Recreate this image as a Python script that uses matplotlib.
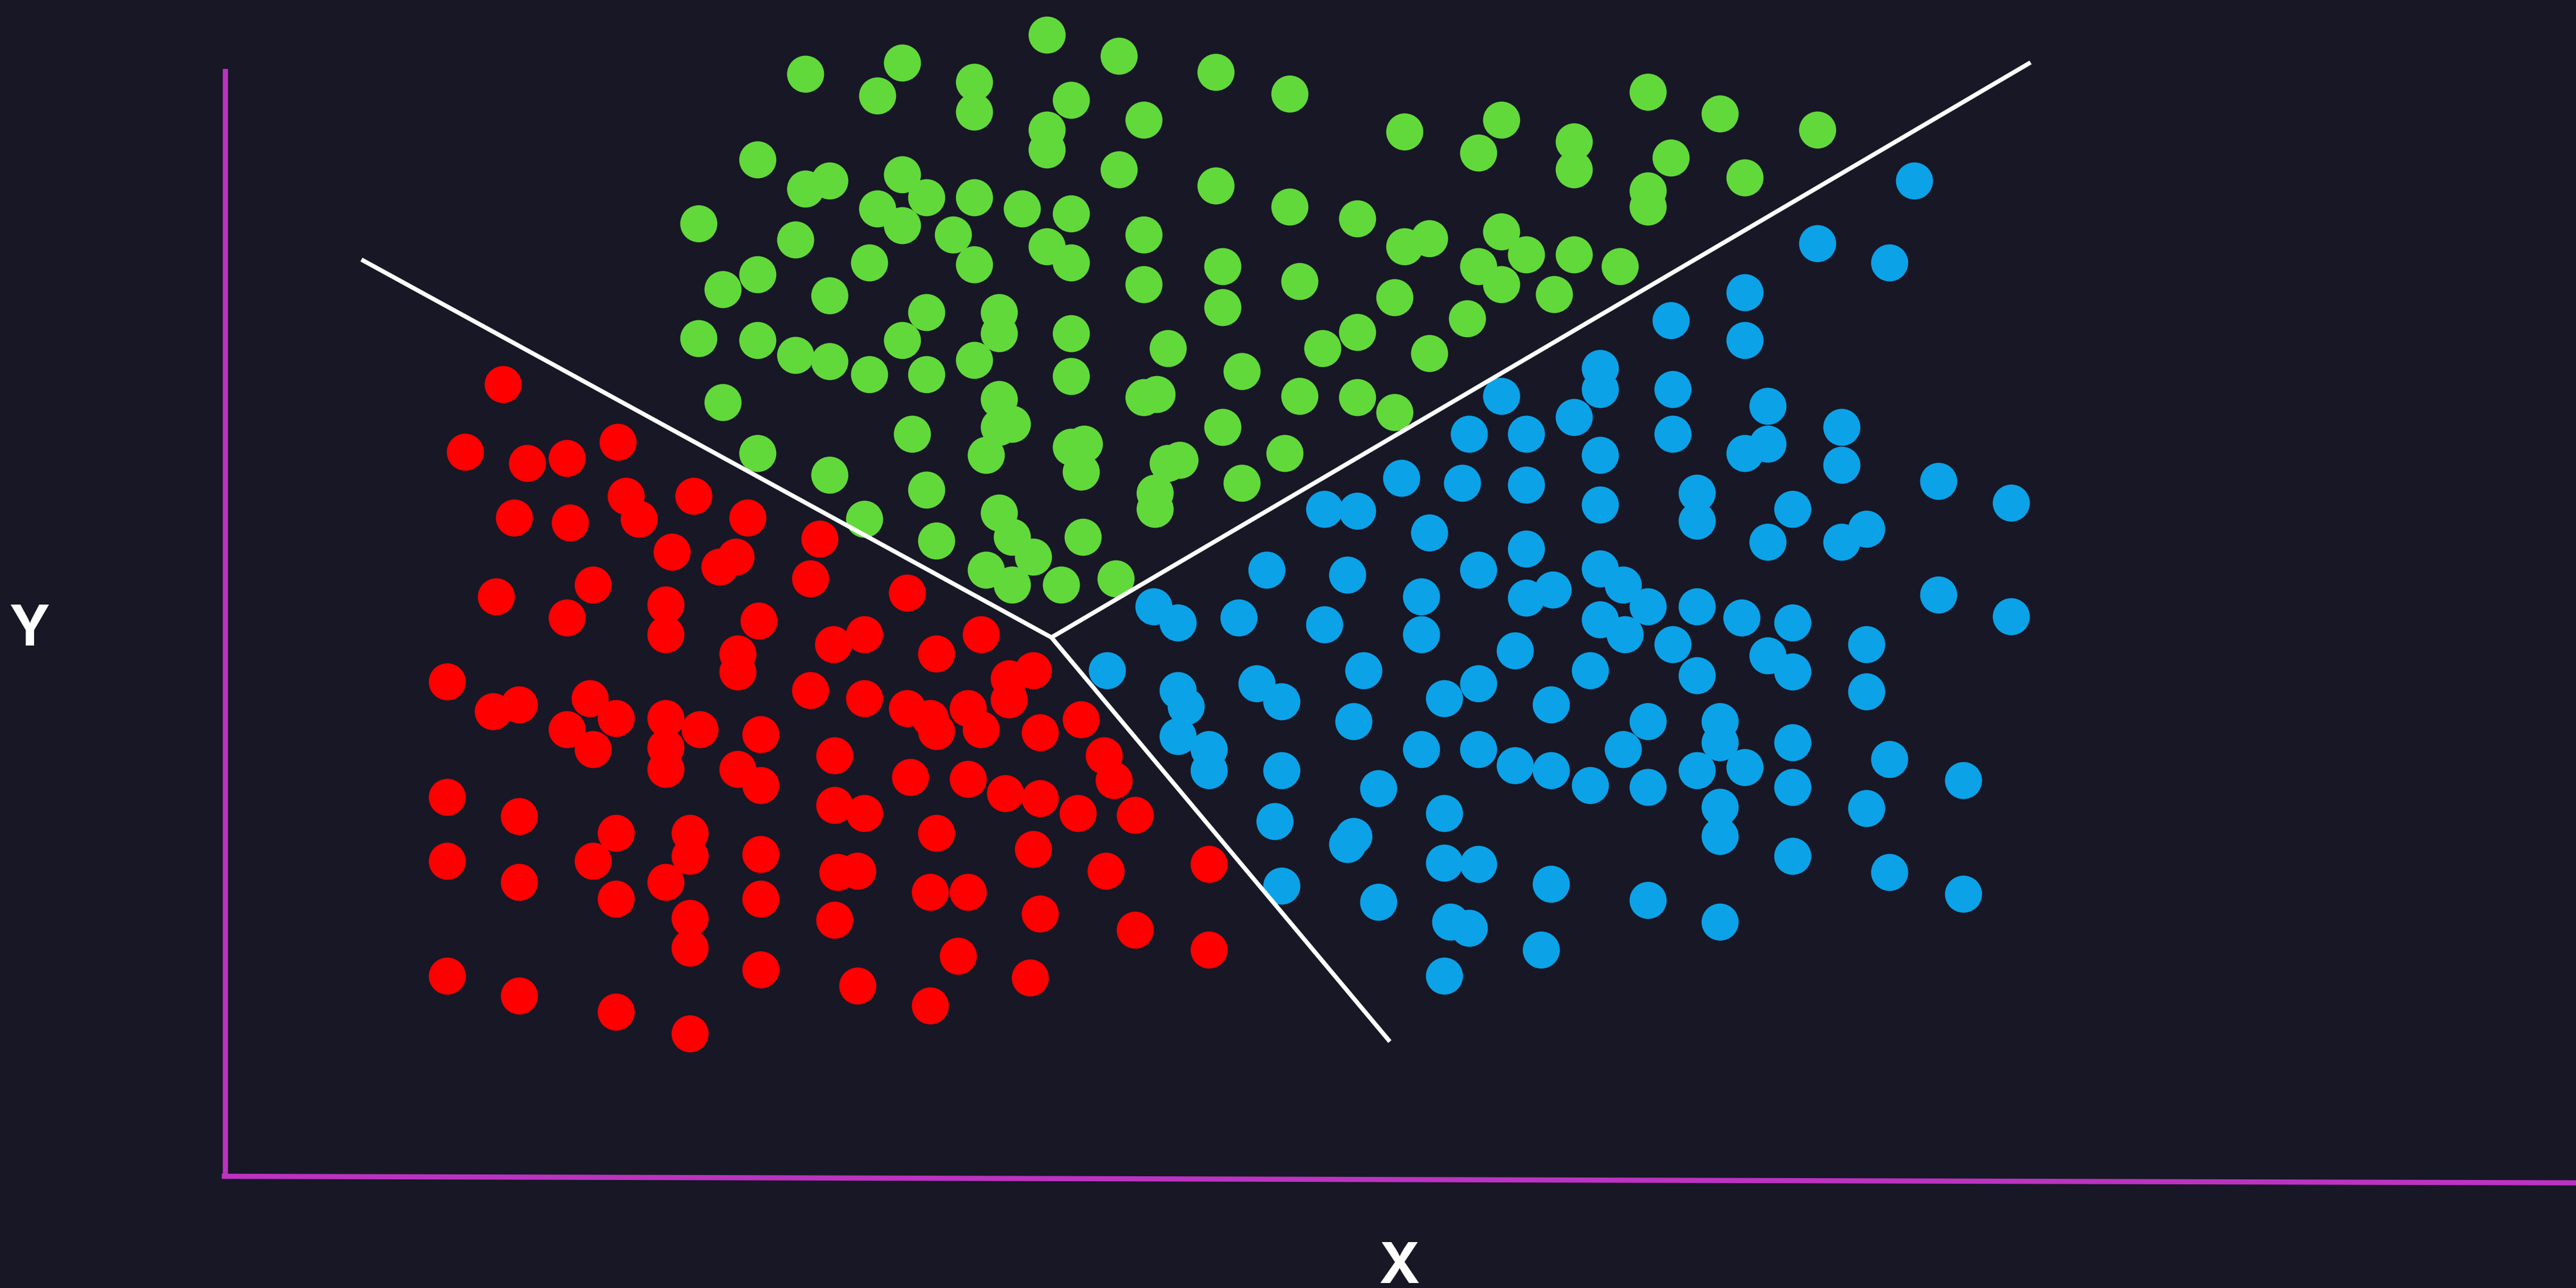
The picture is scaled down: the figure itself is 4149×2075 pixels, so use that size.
import matplotlib.pyplot as plt
import numpy as np

# point positions (horizontal, vertical; vertical grows downwards)
green_x = [637, 549, 681, 490, 593, 740, 534, 652, 593, 785, 696, 637, 637, 855, 914, 1003, 1047, 1106,
           958, 900, 958, 1017, 1062, 461, 490, 505, 549, 681, 740, 534, 564, 593, 549, 622, 652, 425,
           484, 580, 637, 652, 696, 785, 826, 914, 855, 870, 1003, 1003, 529, 593, 461, 440, 505, 744,
           696, 900, 929, 958, 986, 914, 946, 791, 849, 893, 564, 608, 608, 549, 425, 461, 484, 505,
           529, 564, 593, 652, 652, 711, 744, 756, 805, 826, 870, 440, 608, 696, 704, 791, 826, 849,
           555, 608, 616, 652, 660, 744, 782, 461, 600, 658, 711, 718, 505, 564, 608, 703, 703, 756,
           526, 570, 616, 629, 659, 600, 616, 646, 679]
green_y = [21, 38, 34, 45, 50, 44, 58, 61, 68, 57, 73, 79, 91, 80, 73, 56, 69, 79,
           86, 93, 103, 96, 108, 97, 115, 110, 106, 103, 113, 127, 120, 120, 137, 127, 130, 136,
           146, 143, 150, 160, 143, 126, 133, 141, 150, 145, 116, 126, 160, 161, 167, 176, 180, 162,
           173, 162, 155, 155, 162, 173, 179, 171, 181, 194, 190, 190, 203, 207, 206, 207, 216, 220,
           228, 228, 219, 203, 229, 212, 187, 226, 212, 202, 215, 245, 243, 242, 240, 241, 242, 251,
           264, 260, 258, 272, 270, 260, 276, 276, 277, 287, 282, 280, 289, 298, 312, 300, 310, 294,
           316, 329, 327, 339, 327, 347, 356, 356, 352]

red_x = [306, 283, 321, 345, 376, 313, 347, 381, 389, 422, 455, 409, 438, 448, 499, 493, 361, 302,
         345, 405, 405, 462, 552, 597, 526, 507, 449, 449, 570, 272, 300, 316, 359, 375, 345, 361,
         405, 426, 405, 405, 463, 493, 526, 552, 566, 570, 589, 597, 614, 629, 614, 633, 658, 672,
         678, 449, 463, 508, 554, 589, 612, 633, 656, 691, 508, 526, 272, 316, 375, 420, 420, 361,
         463, 570, 629, 673, 736, 272, 316, 375, 405, 510, 522, 566, 589, 463, 420, 420, 508, 633,
         691, 736, 272, 316, 375, 420, 463, 522, 583, 566, 627]
red_y = [234, 275, 282, 279, 269, 315, 318, 302, 316, 302, 315, 336, 345, 339, 328, 352, 356, 363,
         376, 368, 386, 378, 361, 386, 386, 392, 398, 409, 398, 415, 433, 429, 425, 437, 444, 456,
         437, 444, 455, 468, 447, 420, 425, 431, 437, 445, 431, 444, 413, 408, 426, 446, 438, 460,
         475, 468, 478, 460, 473, 474, 483, 486, 495, 496, 490, 495, 485, 497, 507, 507, 521, 524,
         520, 507, 517, 530, 526, 524, 537, 547, 537, 531, 530, 543, 543, 547, 559, 577, 560, 556,
         566, 578, 594, 606, 616, 629, 590, 600, 582, 612, 595]

blue_x = [1165, 1106, 1150, 1062, 1017, 1062, 974, 974, 914, 958, 1018, 1076, 894, 929, 974, 1018, 1062, 1076,
          1121, 1121, 853, 890, 929, 974, 1033, 1033, 1091, 1180, 1224, 806, 826, 870, 929, 1076, 1121, 1136,
          771, 820, 900, 974, 988, 945, 929, 865, 1003, 1033, 1060, 1091, 1180, 1224, 702, 717, 754, 806,
          865, 974, 989, 1018, 1136, 922, 1076, 1091, 1033, 968, 830, 674, 717, 722, 765, 780, 900, 879,
          944, 1003, 1047, 1047, 1091, 1136, 824, 717, 736, 736, 780, 865, 900, 922, 944, 988, 968, 1003,
          1033, 1062, 1091, 1150, 1195, 839, 879, 1047, 1047, 1136, 776, 824, 820, 879, 900, 1091, 1150, 1195,
          780, 839, 944, 1003, 1047, 883, 894, 938, 879]
blue_y = [110, 148, 160, 178, 195, 207, 224, 237, 241, 254, 237, 247, 264, 264, 277, 264, 276, 270,
          260, 283, 291, 294, 295, 307, 300, 317, 310, 293, 306, 310, 311, 324, 334, 330, 330, 322,
          347, 350, 347, 346, 356, 359, 364, 363, 369, 369, 376, 379, 362, 375, 369, 379, 376, 380,
          386, 377, 386, 392, 392, 396, 399, 409, 411, 408, 408, 408, 420, 430, 416, 427, 416, 425,
          429, 439, 439, 452, 452, 421, 439, 448, 456, 469, 469, 456, 456, 466, 469, 456, 478, 479,
          469, 467, 479, 462, 475, 480, 495, 491, 509, 492, 500, 509, 514, 525, 526, 521, 531, 544,
          539, 549, 538, 548, 561, 561, 565, 578, 594]

# decision boundaries: three segments meeting at one point
boundary_center = (640, 388)
boundary_ends = [(220, 158), (1236, 38), (846, 634)]

bg = '#171726'
fig = plt.figure(figsize=(41.49, 20.75), dpi=100, facecolor=bg)
ax = fig.add_axes([0, 0, 1, 1])
ax.set_facecolor(bg)
ax.set_xlim(0, 1568)
ax.set_ylim(784, 0)
ax.axis('off')

# axes drawn by hand (the x axis runs slightly downhill to the right edge)
ax.plot([137, 137], [42, 716], color='#bb33c0', lw=6, solid_capstyle='butt', zorder=1)
ax.plot([135, 1568], [716, 720], color='#bb33c0', lw=6, solid_capstyle='butt', zorder=1)

pt = 1850
ax.scatter(red_x, red_y, s=pt, color='#ff0000', linewidths=0, zorder=2)
ax.scatter(green_x, green_y, s=pt, color='#62d93a', linewidths=0, zorder=2)
ax.scatter(blue_x, blue_y, s=pt, color='#0ba2e8', linewidths=0, zorder=2)

for ex, ey in boundary_ends:
    ax.plot([boundary_center[0], ex], [boundary_center[1], ey], color='white', lw=5,
            solid_capstyle='butt', zorder=3)

ax.text(18, 393, 'Y', color='white', fontsize=65, fontweight='bold', family='Inter',
        ha='center', va='baseline')
ax.text(852, 781, 'X', color='white', fontsize=65, fontweight='bold', family='Inter',
        ha='center', va='baseline')

fig.savefig('out.png', facecolor=bg)
